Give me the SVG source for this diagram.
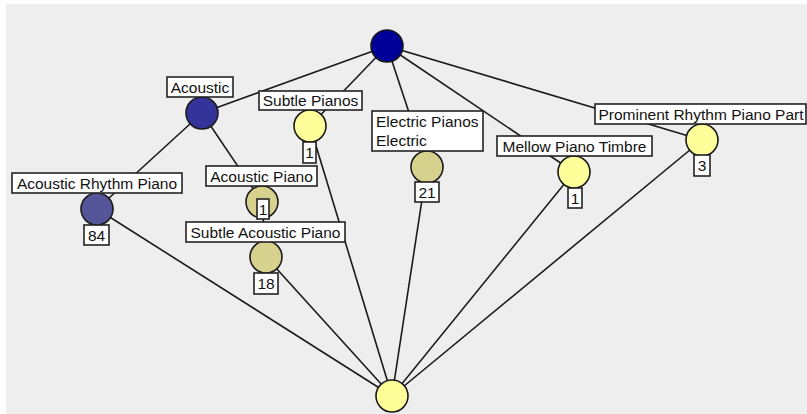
<svg xmlns="http://www.w3.org/2000/svg" width="807" height="414" viewBox="0 0 807 414">
<style>
.bg{fill:#eeeeee}
.edge{stroke:#1a1a1a;stroke-width:1.6;fill:none}
.node{stroke:#1a1a1a;stroke-width:1.6}
.box{fill:#ffffff;stroke:#222222;stroke-width:1.6}
.t{font-family:"Liberation Sans",Arial,sans-serif;font-size:15.5px;fill:#111111;text-anchor:middle}
.navy{fill:#000099}
.blue{fill:#333399}
.slate{fill:#555599}
.khaki{fill:#d6d28e}
.yellow{fill:#ffff99}
</style>
<rect x="0" y="0" width="807" height="414" fill="#ffffff"/>
<rect class="bg" x="6" y="4" width="801" height="410"/>
<g id="connectors">
<line class="edge" x1="387" y1="46" x2="202" y2="113"/>
<line class="edge" x1="387" y1="46" x2="310" y2="126"/>
<line class="edge" x1="387" y1="46" x2="427" y2="167"/>
<line class="edge" x1="387" y1="46" x2="574" y2="172"/>
<line class="edge" x1="387" y1="46" x2="702" y2="140"/>
<line class="edge" x1="202" y1="113" x2="97" y2="209"/>
<line class="edge" x1="202" y1="113" x2="262" y2="202"/>
<line class="edge" x1="262" y1="202" x2="266" y2="257"/>
<line class="edge" x1="392" y1="396" x2="97" y2="209"/>
<line class="edge" x1="392" y1="396" x2="266" y2="257"/>
<line class="edge" x1="392" y1="396" x2="310" y2="126"/>
<line class="edge" x1="392" y1="396" x2="427" y2="167"/>
<line class="edge" x1="392" y1="396" x2="574" y2="172"/>
<line class="edge" x1="392" y1="396" x2="702" y2="140"/>
</g>
<g id="top">
<circle class="node navy" cx="387" cy="46" r="16"/>
</g>
<g id="bottom">
<circle class="node yellow" cx="392" cy="396" r="16"/>
</g>
<g id="acoustic">
<circle class="node blue" cx="202" cy="113" r="16"/>
<rect class="box" x="167" y="77" width="66" height="20"/>
<text class="t" x="200" y="92.5">Acoustic</text>
</g>
<g id="subtle-pianos">
<circle class="node yellow" cx="310" cy="126" r="16"/>
<rect class="box" x="259" y="91" width="103" height="19"/>
<text class="t" x="310.5" y="106">Subtle Pianos</text>
<rect class="box" x="303" y="142" width="13" height="21"/>
<text class="t" x="309.5" y="158">1</text>
</g>
<g id="electric-pianos">
<circle class="node khaki" cx="427" cy="167" r="16"/>
<rect class="box" x="372" y="111" width="111" height="40"/>
<text class="t" x="376" y="126.5" style="text-anchor:start">Electric Pianos</text>
<text class="t" x="376" y="146" style="text-anchor:start">Electric</text>
<rect class="box" x="415" y="182" width="24" height="20"/>
<text class="t" x="427" y="197.5">21</text>
</g>
<g id="mellow-piano-timbre">
<circle class="node yellow" cx="574" cy="172" r="16"/>
<rect class="box" x="497" y="136" width="155" height="20"/>
<text class="t" x="574.5" y="151.5">Mellow Piano Timbre</text>
<rect class="box" x="568" y="188" width="14" height="20"/>
<text class="t" x="575" y="203.5">1</text>
</g>
<g id="prominent-rhythm-piano-part">
<circle class="node yellow" cx="702" cy="140" r="16"/>
<rect class="box" x="595" y="104" width="211" height="20"/>
<text class="t" x="701" y="119.5">Prominent Rhythm Piano Part</text>
<rect class="box" x="694" y="155" width="16" height="21"/>
<text class="t" x="702" y="171">3</text>
</g>
<g id="acoustic-rhythm-piano">
<circle class="node slate" cx="97" cy="209" r="16"/>
<rect class="box" x="12" y="173" width="170" height="20"/>
<text class="t" x="97" y="188.5">Acoustic Rhythm Piano</text>
<rect class="box" x="84" y="225" width="25" height="20"/>
<text class="t" x="96.5" y="240.5">84</text>
</g>
<g id="acoustic-piano">
<circle class="node khaki" cx="262" cy="202" r="16"/>
<rect class="box" x="206" y="166" width="111" height="20"/>
<text class="t" x="261.5" y="181.5">Acoustic Piano</text>
<rect class="box" x="257" y="199" width="12" height="20"/>
<text class="t" x="263" y="214.5">1</text>
</g>
<g id="subtle-acoustic-piano">
<circle class="node khaki" cx="266" cy="257" r="16"/>
<rect class="box" x="186" y="222" width="159" height="20"/>
<text class="t" x="265.5" y="237.5">Subtle Acoustic Piano</text>
<rect class="box" x="254" y="273" width="24" height="21"/>
<text class="t" x="266" y="289">18</text>
</g>
</svg>
